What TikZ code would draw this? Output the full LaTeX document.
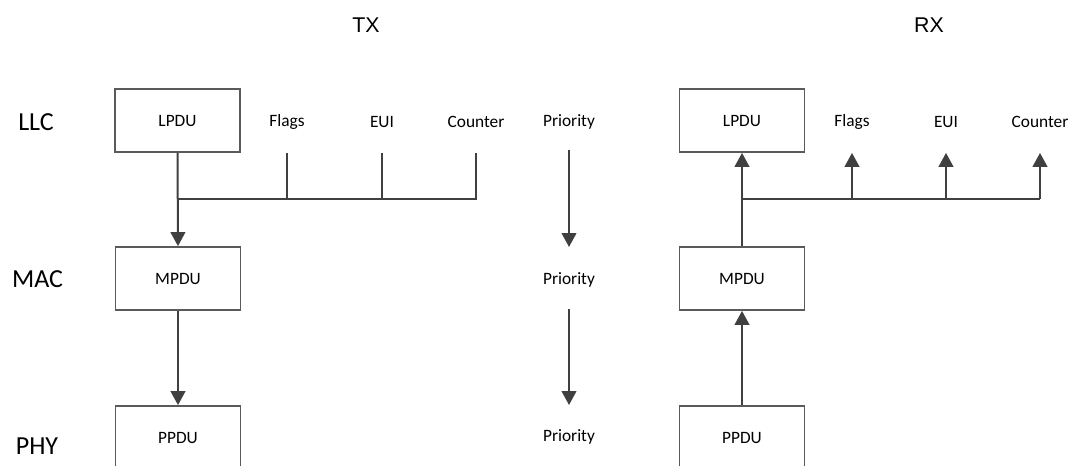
\documentclass[tikz,border=0pt]{standalone}
\usepackage{fontspec}
\setmainfont{Carlito}
\newfontfamily\headfont{Liberation Sans}
\usetikzlibrary{arrows.meta}
\definecolor{linec}{HTML}{404040}
\definecolor{boxc}{HTML}{5A5A5A}
\tikzset{
  pdubox/.style={draw=boxc, line width=1.1pt, minimum width=93.75pt, minimum height=47.5pt, inner sep=0pt, font=\fontsize{13}{15}\selectfont},
  field/.style={inner sep=0pt, font=\fontsize{13}{15}\selectfont},
  layer/.style={inner sep=0pt, font=\fontsize{19.5}{21}\selectfont},
  side/.style={inner sep=0pt, font=\headfont\fontsize{16}{18}\selectfont},
  wire/.style={draw=linec, line width=1.5pt},
  flow/.style={wire, -{Triangle[width=11pt,length=10.5pt]}}
}
\begin{document}
\begin{tikzpicture}[x=0.75pt,y=-0.75pt]
\useasboundingbox (0,0) rectangle (1070,465);
\clip (0,0) rectangle (1070,465);

% column headings and layer names
\node[side] (tx) at (366,25) {TX};
\node[side] (rx) at (929,25) {RX};
\node[layer] (llc) at (36,122) {LLC};
\node[layer] (mac) at (37.5,279) {MAC};
\node[layer] (phy) at (37,446) {PHY};

% transmit side
\node[pdubox] (lpduL) at (177.5,120.5) {LPDU};
\node[pdubox] (mpduL) at (178,278.5) {MPDU};
\node[pdubox] (ppduL) at (178,437.5) {PPDU};
\node[field] (flagsL) at (287,122) {Flags};
\node[field] (euiL) at (382,122) {EUI};
\node[field] (counterL) at (476,122) {Counter};
\coordinate (busL) at (177.5,199);

\draw[wire] (flagsL |- lpduL.south) -- (flagsL |- busL);
\draw[wire] (euiL |- lpduL.south) -- (euiL |- busL);
\draw[wire] (counterL |- lpduL.south) -- (counterL |- busL) -- (busL);
\draw[flow] (lpduL.south) -- (mpduL.north);
\draw[flow] (mpduL.south) -- (ppduL.north);

% priority column
\node[field] (pr1) at (569,122) {Priority};
\node[field] (pr2) at (569,280) {Priority};
\node[field] (pr3) at (569,437) {Priority};
\coordinate (pa1) at (569,150);
\coordinate (pb1) at (569,247);
\coordinate (pa2) at (569,309);
\coordinate (pb2) at (569,405);
\draw[flow] (pa1) -- (pb1);
\draw[flow] (pa2) -- (pb2);

% receive side
\node[pdubox] (lpduR) at (742,120.5) {LPDU};
\node[pdubox] (mpduR) at (742,278.5) {MPDU};
\node[pdubox] (ppduR) at (742,437.5) {PPDU};
\node[field] (flagsR) at (852,122) {Flags};
\node[field] (euiR) at (946,122) {EUI};
\node[field] (counterR) at (1040,122) {Counter};
\coordinate (busR) at (742,199);

\draw[wire] (busR) -- (counterR |- busR);
\draw[flow] (flagsR |- busR) -- (flagsR |- lpduR.south);
\draw[flow] (euiR |- busR) -- (euiR |- lpduR.south);
\draw[flow] (counterR |- busR) -- (counterR |- lpduR.south);
\draw[flow] (mpduR.north) -- (lpduR.south);
\draw[flow] (ppduR.north) -- (mpduR.south);
\end{tikzpicture}
\end{document}
